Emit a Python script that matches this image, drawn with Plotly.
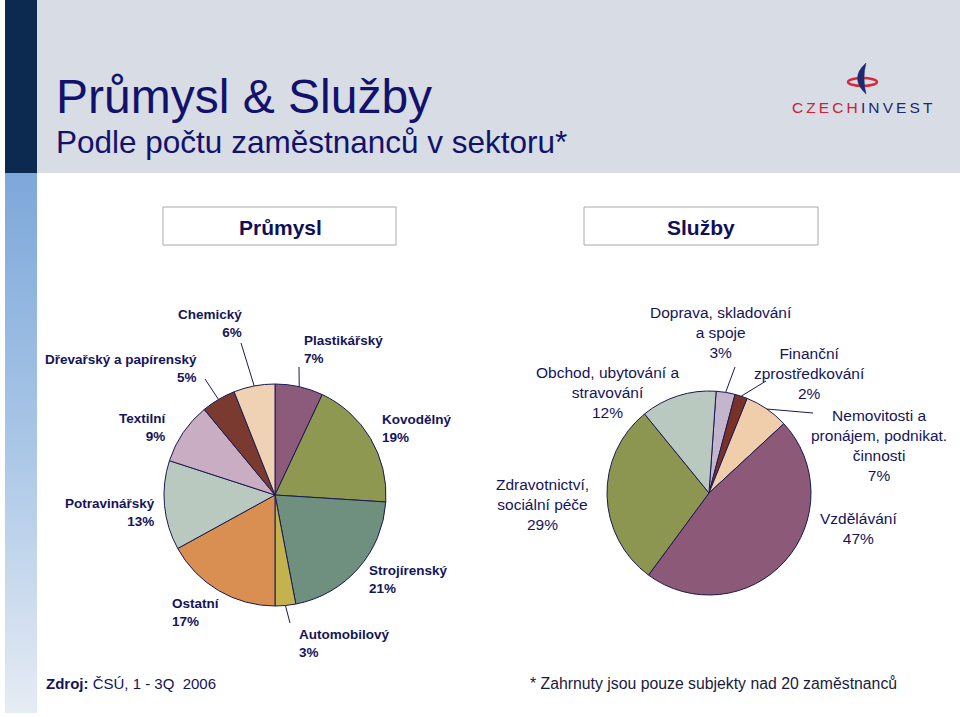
import math
import plotly.graph_objects as go

# ---------------- data ----------------
ind_categories = ["Plastikářský", "Kovodělný", "Strojírenský", "Automobilový", "Ostatní",
                  "Potravinářský", "Textilní", "Dřevařský a papírenský", "Chemický"]
ind_values = [7, 19, 21, 3, 17, 13, 9, 5, 6]
ind_colors = ["#8C5A7A", "#8E9850", "#6F8F7F", "#C4B24E", "#D98F52",
              "#B9C9BF", "#C9ADC2", "#7A3A30", "#EFD2B4"]

srv_categories = ["Doprava, skladování a spoje", "Finanční zprostředkování",
                  "Nemovitosti a pronájem, podnikat. činnosti", "Vzdělávání",
                  "Zdravotnictví, sociální péče", "Obchod, ubytování a stravování"]
srv_label_lines = ["Doprava, skladování<br>a spoje", "Finanční<br>zprostředkování",
                   "Nemovitosti a<br>pronájem, podnikat.<br>činnosti", "Vzdělávání",
                   "Zdravotnictví,<br>sociální péče", "Obchod, ubytování a<br>stravování"]
srv_values = [3, 2, 7, 47, 29, 12]
srv_colors = ["#C4B5CE", "#7A3228", "#F0CEAC", "#8C5A78", "#8C9650", "#BAC9BF"]

W, H = 960, 717
NAVY = "#14145A"
TITLE_C = "#12126C"

# pie geometry (pixels)
L_CX, L_CY, L_R = 275, 495, 111
R_CX, R_CY, R_R = 709, 493, 102
R_ROT = 4


def dom(cx, cy, r):
    return dict(x=[(cx - r) / W, (cx + r) / W], y=[1 - (cy + r) / H, 1 - (cy - r) / H])


fig = go.Figure()

# invisible pixel-space axes for decorations
fig.add_trace(go.Scatter(
    x=[5, 37, 37, 5, 5], y=[173, 173, 713, 713, 173], mode="lines",
    fill="toself", line=dict(width=0), hoverinfo="skip", showlegend=False,
    fillgradient=dict(type="vertical", start=173, stop=713,
                      colorscale=[[0, "#7DA8DA"], [0.5, "#A9C6E6"], [1, "#E6ECF4"]])))

fig.add_trace(go.Pie(
    labels=ind_categories, values=ind_values, sort=False, direction="clockwise",
    rotation=0, textinfo="none", hoverinfo="label+percent",
    marker=dict(colors=ind_colors, line=dict(color="#1A1A50", width=1)),
    domain=dom(L_CX, L_CY, L_R), showlegend=False))

fig.add_trace(go.Pie(
    labels=srv_categories, values=srv_values, sort=False, direction="clockwise",
    rotation=R_ROT, textinfo="none", hoverinfo="label+percent",
    marker=dict(colors=srv_colors, line=dict(color="#1A1A50", width=1)),
    domain=dom(R_CX, R_CY, R_R), showlegend=False))


def mid_angle(values, idx, rot):
    tot = sum(values)
    start = sum(values[:idx]) / tot * 360
    return rot + start + values[idx] / tot * 180


def edge_point(cx, cy, r, ang):
    a = math.radians(ang)
    return cx + r * math.sin(a), cy - r * math.cos(a)


shapes = []
# header band
shapes.append(dict(type="rect", xref="x", yref="y", x0=37, x1=960, y0=0, y1=173,
                   fillcolor="#D7DCE5", line=dict(width=0), layer="below"))
shapes.append(dict(type="rect", xref="x", yref="y", x0=5, x1=37, y0=0, y1=173,
                   fillcolor="#0C2A50", line=dict(width=0), layer="below"))
# section boxes
for x0, x1 in [(163, 396), (584, 818)]:
    shapes.append(dict(type="rect", xref="x", yref="y", x0=x0, x1=x1, y0=207, y1=245,
                       fillcolor="white", line=dict(color="#AAAAAA", width=1), layer="below"))
# logo
shapes.append(dict(type="circle", xref="x", yref="y", x0=848, x1=877, y0=78, y1=86,
                   line=dict(color="#D42A3C", width=2.5)))
shapes.append(dict(type="path", xref="x", yref="y",
                   path="M 866,63 Q 849,78 866,94 Q 862,78 866,63 Z",
                   fillcolor="#1E2A6E", line=dict(color="#1E2A6E", width=0.5)))

# leader lines
ind_leaders = {0: (299, 367), 3: (290, 623), 8: (241, 343), 7: (205, 379)}
for i, (ex, ey) in ind_leaders.items():
    sx, sy = edge_point(L_CX, L_CY, L_R, mid_angle(ind_values, i, 0))
    shapes.append(dict(type="line", xref="x", yref="y", x0=sx, y0=sy, x1=ex, y1=ey,
                       line=dict(color="#1A1A50", width=1)))
srv_leaders = {0: (735, 367), 1: (766, 381), 2: (813, 413)}
for i, (ex, ey) in srv_leaders.items():
    sx, sy = edge_point(R_CX, R_CY, R_R, mid_angle(srv_values, i, R_ROT))
    shapes.append(dict(type="line", xref="x", yref="y", x0=sx, y0=sy, x1=ex, y1=ey,
                       line=dict(color="#1A1A50", width=1)))

ann = []


def add_text(x, y, text, size, color=NAVY, xanchor="left", align="left",
             family="Liberation Sans, Arial, sans-serif", bold=False):
    ann.append(dict(x=x, y=y, xref="x", yref="y", text=text, showarrow=False,
                    xanchor=xanchor, yanchor="middle", align=align,
                    font=dict(size=size, color=color, family=family,
                              weight="bold" if bold else "normal")))


# titles
add_text(54, 96, "Průmysl & Služby", 48, TITLE_C)
add_text(54, 142, "Podle počtu zaměstnanců v sektoru*", 31.5, TITLE_C)
add_text(280, 227, "Průmysl", 21, "#10105A", xanchor="center", align="center", bold=True)
add_text(701, 227, "Služby", 21, "#10105A", xanchor="center", align="center", bold=True)

# logo text
sp = "\u2009"
add_text(790, 107, "<span style='color:#CC2237'>" + sp.join("CZECH") + "</span>" + sp +
         "<span style='color:#1E2A6E'>" + sp.join("INVEST") + "</span>", 15.5, "#1E2A6E")

# industry labels: (x, y_center, anchor)
ind_pos = [(302, 349, "left"), (380, 428, "left"), (367, 579, "left"), (297, 643, "left"),
           (170, 612, "left"), (157, 512, "right"), (169, 427, "right"),
           (199, 368, "right"), (244, 323, "right")]
for cat, val, (x, y, a) in zip(ind_categories, ind_values, ind_pos):
    add_text(x, y, f"{cat}<br>{val}%", 13.5, NAVY, xanchor=a, align=a, bold=True)

# services labels (centered)
srv_pos = [(721, 332), (809, 373), (879, 445), (858, 528), (542, 504), (607, 392)]
for lab, val, (x, y) in zip(srv_label_lines, srv_values, srv_pos):
    add_text(x, y, f"{lab}<br>{val}%", 15.5, NAVY, xanchor="center", align="center")

# footer
add_text(44, 683, "<b>Zdroj:</b> ČSÚ, 1 - 3Q\u00a0\u00a02006", 15, "#14145A")
add_text(528, 683, "* Zahrnuty jsou pouze subjekty nad 20 zaměstnanců", 15.8, "#1A1A40")

fig.update_layout(
    width=W, height=H, margin=dict(l=0, r=0, t=0, b=0),
    paper_bgcolor="white", plot_bgcolor="rgba(0,0,0,0)",
    xaxis=dict(range=[0, W], visible=False, domain=[0, 1], fixedrange=True),
    yaxis=dict(range=[H, 0], visible=False, domain=[0, 1], fixedrange=True),
    shapes=shapes, annotations=ann, showlegend=False)

fig.write_html("out.html", config={"displayModeBar": False},
               post_script="document.body.style.margin='0px';document.body.style.overflow='hidden';")
